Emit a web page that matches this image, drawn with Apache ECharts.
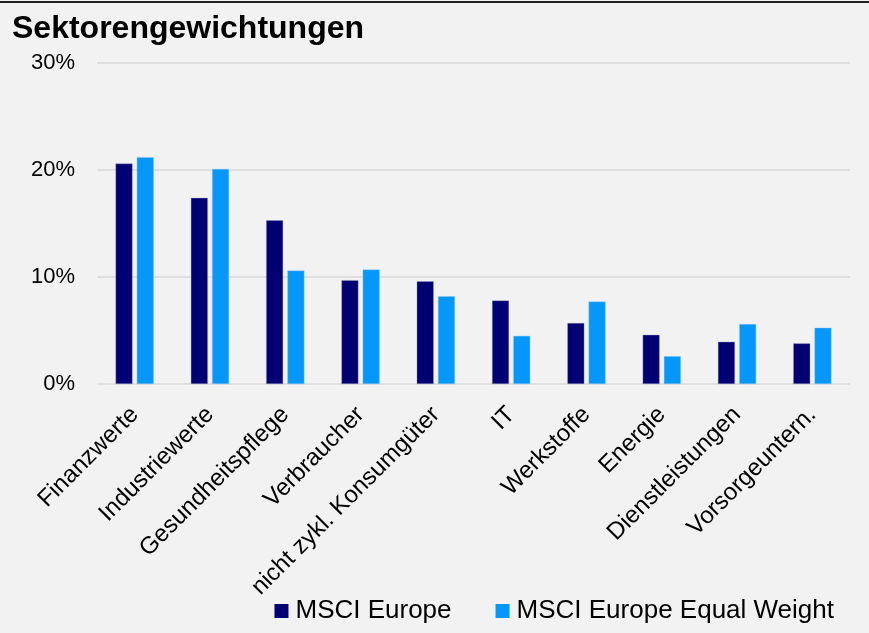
<!DOCTYPE html>
<html><head><meta charset="utf-8">
<script src="https://cdn.jsdelivr.net/npm/echarts@6/dist/echarts.min.js"></script>
<style>html,body{margin:0;padding:0;background:#f2f2f2;}#c{width:869px;height:633px;}</style>
</head><body><div id="c"></div>
<script>
const categories = ["Finanzwerte","Industriewerte","Gesundheitspflege","Verbraucher","nicht zykl. Konsumgüter","IT","Werkstoffe","Energie","Dienstleistungen","Vorsorgeuntern."];
const msciEurope = [20.6, 17.4, 15.3, 9.7, 9.6, 7.8, 5.7, 4.6, 3.95, 3.8];
const msciEqualWeight = [21.2, 20.1, 10.6, 10.7, 8.2, 4.5, 7.7, 2.6, 5.6, 5.25];
const yTicks = [0, 10, 20, 30];

const chart = echarts.init(document.getElementById('c'));
chart.setOption({
  backgroundColor: '#f2f2f2',
  animation: false,
  title: { text: 'Sektorengewichtungen', left: 7, top: 8,
    textStyle: { fontFamily: 'Liberation Sans, Arial', fontWeight: 'bold', fontSize: 32, color: '#000' } },
  graphic: [{ type: 'line', shape: { x1: 0, y1: 2, x2: 869, y2: 2 }, style: { stroke: '#222', lineWidth: 2 } }],
  legend: { right: 30, bottom: 4, itemWidth: 14, itemHeight: 14, itemGap: 44, icon: 'rect',
    itemStyle: { borderWidth: 0 },
    textStyle: { fontFamily: 'Liberation Sans, Arial', fontSize: 26, color: '#000', padding: [0, 0, 0, 2] },
    data: ['MSCI Europe', 'MSCI Europe Equal Weight'] },
  grid: { left: 97, right: 19, top: 63, bottom: 249, containLabel: false },
  xAxis: { type: 'category', data: categories,
    axisLine: { show: false }, axisTick: { show: false },
    axisLabel: { rotate: 45, interval: 0, margin: 27, fontFamily: 'Liberation Sans, Arial', fontSize: 24, color: '#000' } },
  yAxis: { type: 'value', min: yTicks[0], max: yTicks[yTicks.length - 1], interval: 10,
    axisLine: { show: false }, axisTick: { show: false },
    axisLabel: { formatter: '{value}%', margin: 22, fontFamily: 'Liberation Sans, Arial', fontSize: 22, color: '#000' },
    splitLine: { lineStyle: { color: '#d9d9d9', width: 1.5 } } },
  series: [
    { name: 'MSCI Europe', type: 'bar', data: msciEurope, barWidth: 17, barGap: '25%',
      itemStyle: { color: '#000072', borderColor: 'rgba(160,160,200,0.7)', borderWidth: 0.5 } },
    { name: 'MSCI Europe Equal Weight', type: 'bar', data: msciEqualWeight, barWidth: 17,
      itemStyle: { color: '#0598fa', borderColor: 'rgba(140,200,255,0.8)', borderWidth: 0.5 } }
  ]
});
</script></body></html>
